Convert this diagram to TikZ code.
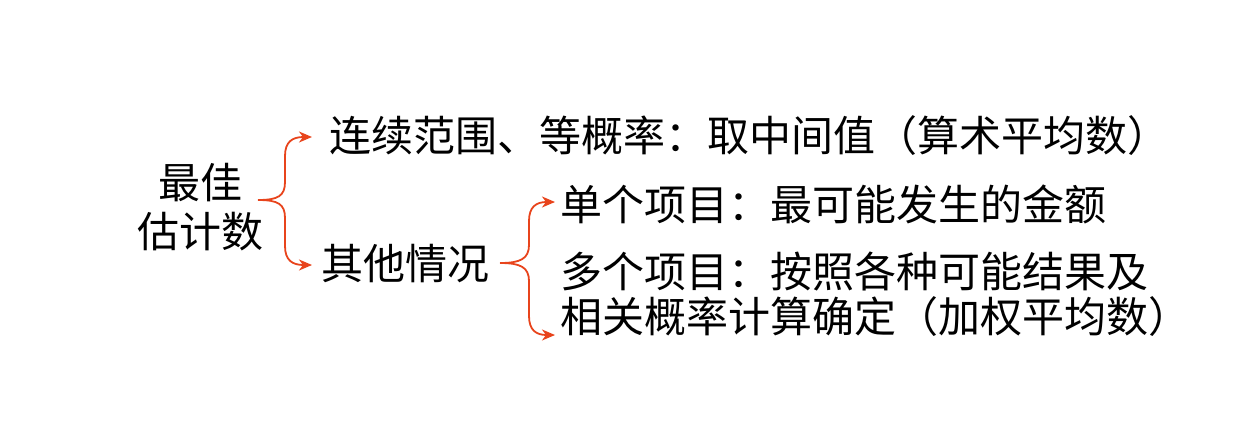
\documentclass[tikz,border=0pt]{standalone}
\usepackage{fontspec}
\setmainfont{Noto Sans CJK SC}
\usetikzlibrary{arrows.meta}
\definecolor{arrcol}{HTML}{E8441C}
\tikzset{
  txt/.style={inner sep=0pt, font=\fontsize{42}{45}\selectfont, anchor=west},
  arr/.style={draw=arrcol, line width=1.8pt, -{Stealth[length=13pt,width=11pt,inset=4pt]}},
}
\begin{document}
\begin{tikzpicture}[x=1pt,y=-1pt]
\useasboundingbox (0,0) rectangle (1246,424);
\node[inner sep=0pt, align=center, font=\fontsize{42}{49}\selectfont] (root) at (200,207) {最佳\\估计数};
\node[txt] (c1) at (329,136) {连续范围、等概率：取中间值（算术平均数）};
\node[txt] (c2) at (321,264) {其他情况};
\node[txt] (d1) at (560,204) {单个项目：最可能发生的金额};
\node[txt, align=left] (d2) at (560,294) {多个项目：按照各种可能结果及\\相关概率计算确定（加权平均数）};
\coordinate (s1) at (258,200);
\coordinate (e1) at (312,137);
\coordinate (e2) at (312,265);
\coordinate (s2) at (500,263);
\coordinate (f1) at (555,202);
\coordinate (f2) at (555,335);
\draw[arr] (s1) .. controls (278,200) and (285,196) .. (285,182) -- (285,156) .. controls (285,142) and (292,137) .. (e1);
\draw[arr] (s1) .. controls (278,200) and (285,204) .. (285,218) -- (285,246) .. controls (285,260) and (292,265) .. (e2);
\draw[arr] (s2) .. controls (520,263) and (529,259) .. (529,245) -- (529,221) .. controls (529,207) and (536,202) .. (f1);
\draw[arr] (s2) .. controls (520,263) and (529,267) .. (529,281) -- (529,316) .. controls (529,330) and (536,335) .. (f2);
\end{tikzpicture}
\end{document}
